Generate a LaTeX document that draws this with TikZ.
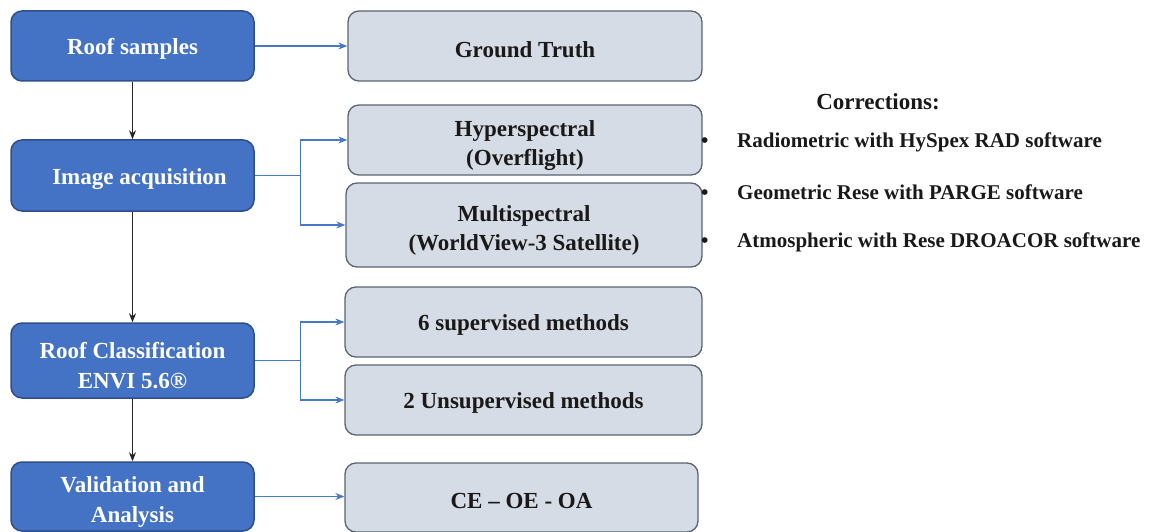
\documentclass[tikz,border=0pt]{standalone}
\usepackage{fontspec}
\setmainfont{Liberation Serif}
\usetikzlibrary{arrows.meta}
\definecolor{bluefill}{HTML}{4472C4}
\definecolor{blueedge}{HTML}{2F4F8A}
\definecolor{grayfill}{HTML}{D6DCE5}
\definecolor{grayedge}{HTML}{5A6472}
\definecolor{arrowblue}{HTML}{4A78C8}
\newcommand\onestrut{\rule{0pt}{22.5pt}}
\newcommand\twostrut{\rule{0pt}{27pt}}
\tikzset{
  bluebox/.style={draw=blueedge, line width=1.5pt, fill=bluefill, rounded corners=11pt,
    text=white, font=\fontsize{23}{30}\selectfont\bfseries, align=center,
    minimum width=243pt, inner sep=0pt},
  graybox/.style={draw=grayedge, line width=1.3pt, fill=grayfill, rounded corners=11pt,
    text=black!90, font=\fontsize{23}{29}\selectfont\bfseries, align=center, inner sep=0pt},
  bluearrow/.style={draw=arrowblue, line width=1.1pt, -{Stealth[length=9pt,width=7pt]}},
  blackarrow/.style={draw=black!85, line width=1.1pt, -{Stealth[length=9pt,width=7pt]}},
  corrtext/.style={anchor=west, inner sep=0pt, font=\fontsize{21}{25}\selectfont\bfseries, text=black!90}
}
\begin{document}
\begin{tikzpicture}[x=1pt,y=-1pt]
\useasboundingbox (0,0) rectangle (1151,532);
% left column
\node[bluebox, minimum height=70pt] (rs) at (132.5,46) {\onestrut Roof samples};
\node[bluebox, minimum height=71pt] (ia) at (132.5,175.5) {\onestrut\hspace{14pt}Image acquisition};
\node[bluebox, minimum height=75pt] (rc) at (132.5,360.5) {\twostrut Roof Classification\\ENVI 5.6\textregistered};
\node[bluebox, minimum height=69pt] (va) at (132.5,496.5) {\twostrut Validation and\\Analysis};
% right column
\node[graybox, minimum width=354pt, minimum height=70pt] (gt) at (525,46) {\onestrut Ground Truth};
\node[graybox, minimum width=354pt, minimum height=70pt] (hy) at (525,140) {\twostrut Hyperspectral\\(Overflight)};
\node[graybox, minimum width=356pt, minimum height=84pt] (ms) at (524,225) {\twostrut Multispectral\\(WorldView-3 Satellite)};
\node[graybox, minimum width=357pt, minimum height=70pt] (sm) at (523.5,322) {\onestrut 6 supervised methods};
\node[graybox, minimum width=357pt, minimum height=70pt] (um) at (523.5,400) {\onestrut 2 Unsupervised methods};
\node[graybox, minimum width=353pt, minimum height=69pt] (ce) at (521.5,497.5) {\onestrut CE -- OE - OA};
% corrections
\node[anchor=center, inner sep=0pt, font=\fontsize{23}{27}\selectfont\bfseries, text=black!90] (corr) at (878,102) {Corrections:};
\node[corrtext] (c1) at (701,142) {\makebox[36pt][l]{\textbullet}Radiometric with HySpex RAD software};
\node[corrtext] (c2) at (701,192) {\makebox[36pt][l]{\textbullet}Geometric Rese with PARGE software};
\node[corrtext] (c3) at (701,242) {\makebox[36pt][l]{\textbullet}Atmospheric with Rese DROACOR software};
% connectors
\draw[blackarrow] (rs.south) -- (ia.north);
\draw[blackarrow] (ia.south) -- (rc.north);
\draw[blackarrow] (rc.south) -- (va.north);
\draw[bluearrow] (rs.east) -- (rs.east -| gt.west);
\draw[bluearrow] (ia.east) -- ++(46,0) |- (hy.west);
\draw[bluearrow] (ia.east) -- ++(46,0) |- (ms.west);
\draw[bluearrow] (rc.east) -- ++(46,0) |- (sm.west);
\draw[bluearrow] (rc.east) -- ++(46,0) |- (um.west);
\draw[bluearrow] (va.east) -- (va.east -| ce.west);
\end{tikzpicture}
\end{document}
